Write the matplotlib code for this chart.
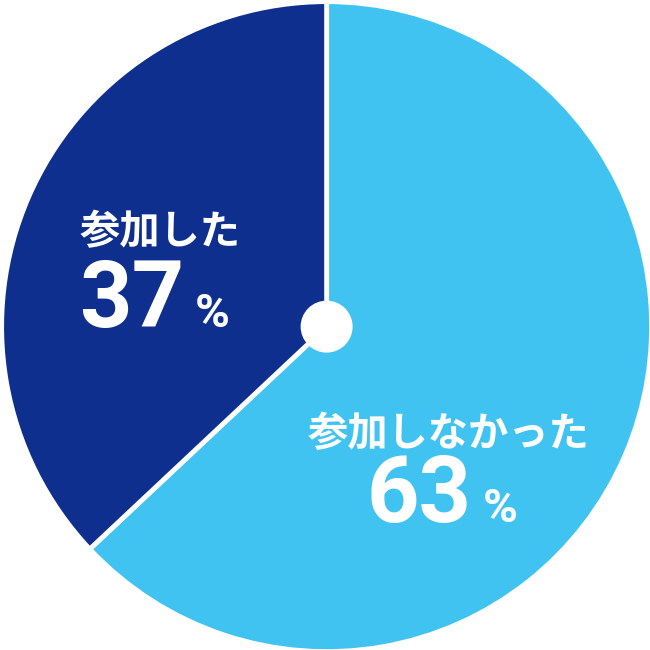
import matplotlib
matplotlib.use("Agg")
import matplotlib.pyplot as plt
from matplotlib.patches import Circle

# data
labels = ["参加しなかった", "参加した"]
values = [63, 37]
colors = ["#41C3F2", "#0E2F8D"]

jp_font = ["Noto Sans CJK JP", "DejaVu Sans"]
num_font = ["Roboto", "Liberation Sans", "DejaVu Sans"]

fig = plt.figure(figsize=(6.5, 6.5), dpi=100)
ax = fig.add_axes([0, 0, 1, 1])
ax.pie(values, colors=colors, startangle=90, counterclock=False,
       radius=1.0, center=(0.0, 0.0),
       wedgeprops=dict(edgecolor="white", linewidth=3.5))
ax.add_patch(Circle((0.0, 0.0), 0.08, facecolor="white", edgecolor="none", zorder=5))
ax.set_xlim(-1.005, 0.995)
ax.set_ylim(-0.995, 1.005)
ax.set_aspect("equal")
ax.axis("off")


def px(x, y):
    # pixel position in the 650x650 picture -> figure fraction
    return x / 650, 1 - y / 650


# dark wedge label
ax.text(*px(160, 244), labels[1], transform=fig.transFigure, ha="center",
        va="baseline", fontsize=29, fontweight="bold", color="white", family=jp_font)
ax.text(*px(132, 327), str(values[1]), transform=fig.transFigure, ha="center",
        va="baseline", fontsize=66, fontweight="bold", color="white", family=num_font)
ax.text(*px(212, 327), "%", transform=fig.transFigure, ha="center",
        va="baseline", fontsize=34, fontweight="bold", color="white", family=num_font)

# light wedge label
ax.text(*px(448, 446), labels[0], transform=fig.transFigure, ha="center",
        va="baseline", fontsize=29, fontweight="bold", color="white", family=jp_font)
ax.text(*px(419, 522), str(values[0]), transform=fig.transFigure, ha="center",
        va="baseline", fontsize=66, fontweight="bold", color="white", family=num_font)
ax.text(*px(500, 522), "%", transform=fig.transFigure, ha="center",
        va="baseline", fontsize=34, fontweight="bold", color="white", family=num_font)

fig.savefig("out.png", dpi=100, facecolor="white")
plt.close(fig)
